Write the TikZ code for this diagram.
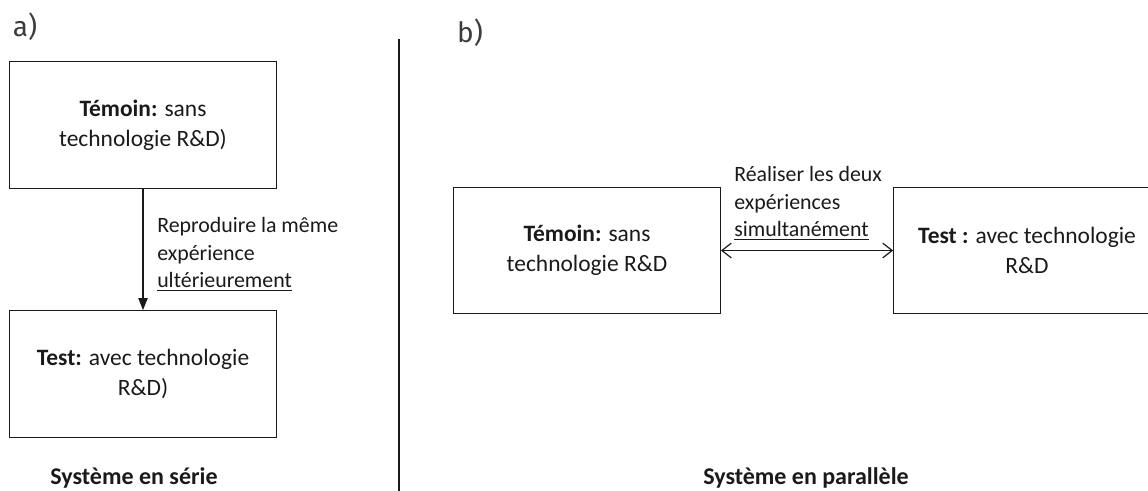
\documentclass[tikz,border=0pt]{standalone}
\usepackage{fontspec}
\setmainfont{Carlito}
\newfontfamily\panelfont{Fira Sans}
\usetikzlibrary{arrows.meta}
\definecolor{ink}{HTML}{1A1A1A}
\definecolor{panelgray}{HTML}{3C3C3C}
\begin{document}
\begin{tikzpicture}[x=0.75pt,y=-0.75pt,
  box/.style={draw=ink,line width=0.9pt,minimum width=200pt,minimum height=95pt,
    inner sep=0pt,align=center,text=ink,font=\fontsize{17.6}{22.5}\selectfont},
  note/.style={anchor=west,align=left,inner sep=0pt,text=ink,
    font=\fontsize{16.4}{20.8}\selectfont},
  caption/.style={anchor=base,inner sep=0pt,text=ink,
    font=\fontsize{18}{20}\selectfont\bfseries},
  panel/.style={inner sep=0pt,text=panelgray,font=\fontsize{21}{24}\selectfont\panelfont},
  link/.style={draw=ink,line width=0.9pt}]
\useasboundingbox (0,0) rectangle (1148,490);

% panel labels and separator
\node[panel] (pa) at (25,27) {a)};
\node[panel] (pb) at (470,33) {b)};
\coordinate (sepTop) at (399,39);
\coordinate (sepBot) at (399,495);
\draw[link] (sepTop) -- (sepBot);

% a) serial arrangement
\node[box] (a1) at (143,125) {\textbf{Témoin:} sans\\technologie R\&D)};
\node[box] (a2) at (143,374) {\textbf{Test:} avec technologie\\R\&D)};
\draw[link,-{Triangle[length=9pt,width=7pt]}] (a1) -- (a2);
\node[note] (na) at (157,254) {Reproduire la même\\expérience\\\underline{ultérieurement}};
\node[caption] (ca) at (134,484.5) {Système en série};

% b) parallel arrangement
\node[box] (b1) at (587,250.5) {\textbf{Témoin:} sans\\technologie R\&D};
\node[box] (b2) at (1027,250.5) {\textbf{Test :} avec technologie\\R\&D};
\draw[link,{Straight Barb[length=7pt,width=11pt]}-{Straight Barb[length=7pt,width=11pt]}] (b1) -- (b2);
\node[note] (nb) at (734,203) {Réaliser les deux\\expériences\\\underline{simultanément}};
\node[caption] (cb) at (806,484.5) {Système en parallèle};
\end{tikzpicture}
\end{document}
